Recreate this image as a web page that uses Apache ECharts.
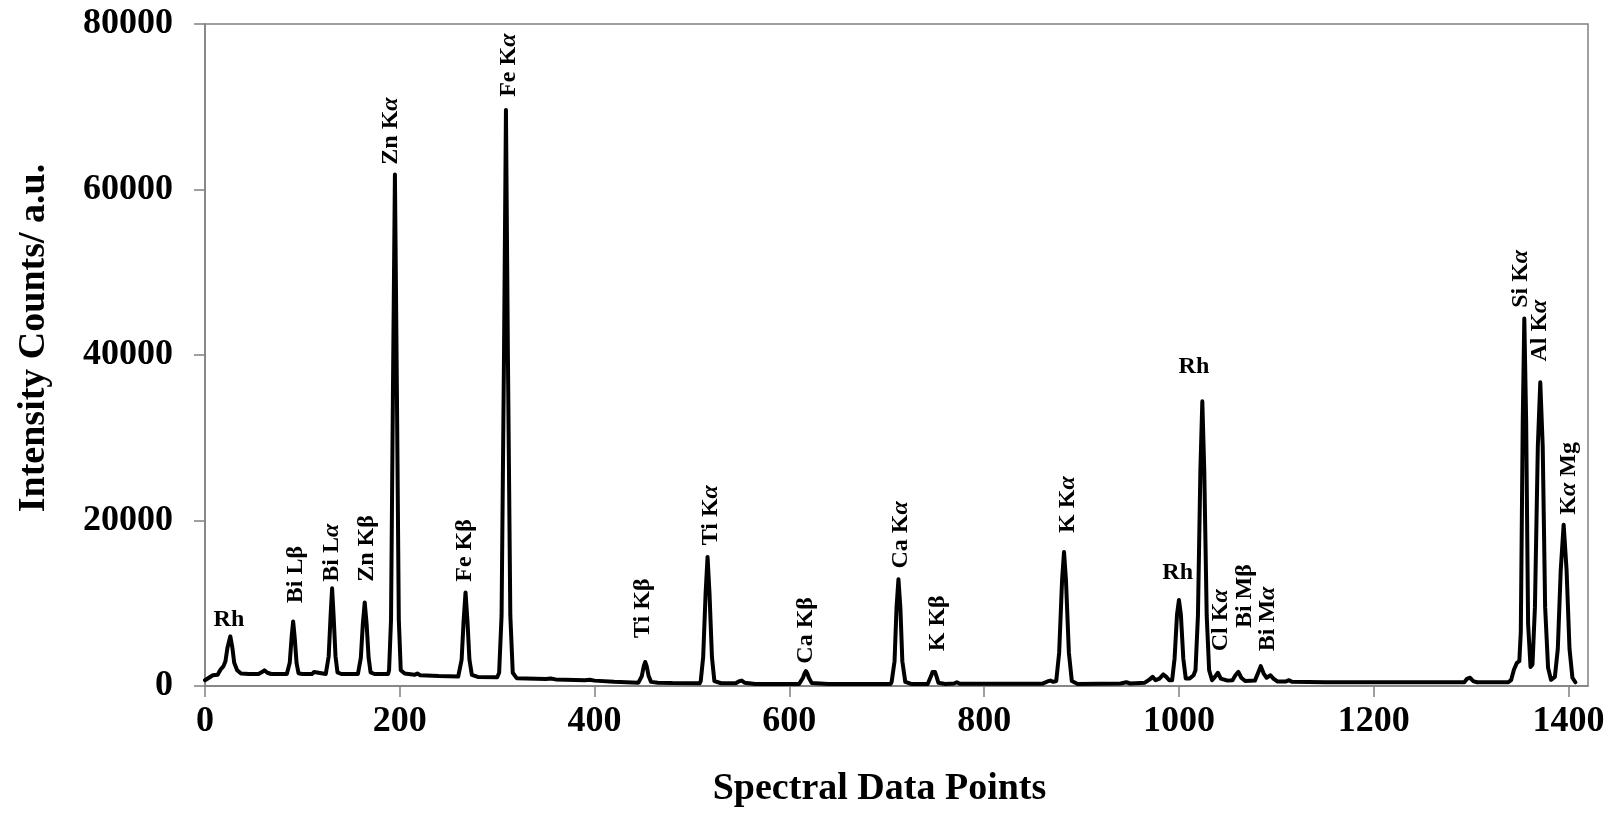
<!DOCTYPE html>
<html>
<head>
<meta charset="utf-8">
<script src="https://cdn.jsdelivr.net/npm/echarts@6/dist/echarts.min.js"></script>
<style>
  html, body { margin: 0; padding: 0; background: #fff; }
  #chart { width: 1616px; height: 816px; }
</style>
</head>
<body>
<div id="chart"></div>
<script>
// spectrum trace: [data point, counts]
const spectrum = [
    [0, 700], [4, 1000], [8, 1300], [10, 1500], [13, 1350], [16, 2000], [19, 2400], [21, 3000],
    [23, 4600], [26, 6000], [28, 4700], [30, 2800], [33, 1900], [37, 1500], [45, 1450], [55, 1450],
    [58, 1650], [61, 1900], [64, 1600], [68, 1450], [84, 1450],
    [85, 1550], [87, 2800], [89, 6000], [90.5, 7800], [92, 6000], [94, 2800], [96, 1550],
    [100, 1450], [110, 1450], [112, 1700], [114, 1500], [124, 1450],
    [125, 1650], [127, 3600], [129, 8600], [130.5, 11800], [132, 8600], [134, 3600], [136, 1650],
    [140, 1450], [157, 1450],
    [158, 1650], [160, 3400], [162, 7400], [164, 10100], [166, 7400], [168, 3400], [170, 1650],
    [174, 1450], [188, 1450],
    [189, 1900], [191, 8000], [193, 36000], [195, 61800], [197, 36000], [199, 8000], [201, 1900],
    [205, 1500], [215, 1350], [218, 1500], [221, 1300], [240, 1200], [260, 1150],
    [261, 1350], [263.5, 3200], [265.5, 7800], [267.5, 11300], [269.5, 7800], [271.5, 3200], [274, 1350],
    [280, 1100], [300, 1050],
    [302, 1600], [304.5, 8500], [307, 40000], [309, 69600], [311, 40000], [313.5, 8500], [316, 1600],
    [320, 950], [350, 850], [355, 900], [360, 800], [390, 700], [395, 750], [400, 650], [420, 500], [445, 400],
    [446, 500], [448.5, 1200], [450.5, 2400], [452, 2900], [453.5, 2400], [455.5, 1200], [458, 500],
    [465, 400], [480, 350], [508, 330],
    [509, 600], [511.5, 3500], [514, 11200], [516, 15600], [518, 11200], [520.5, 3500], [523, 600],
    [530, 330], [545, 330], [548, 550], [551, 650], [554, 400], [565, 250], [610, 250],
    [611, 350], [614, 1000], [615.5, 1500], [617, 1800], [618.5, 1500], [620, 1000], [623, 350],
    [640, 250], [704, 250],
    [705, 500], [708, 3000], [710, 9400], [712, 12900], [714, 9400], [716, 3000], [719, 500],
    [725, 250], [742, 250],
    [743, 400], [745.5, 1200], [747, 1700], [748, 1900], [749.5, 1700], [751, 1200], [753, 400],
    [760, 250], [769, 300], [772, 450], [775, 280], [860, 280], [865, 550], [868, 650], [871, 500],
    [874, 600], [877, 4000], [880, 12800], [882, 16200], [884, 12800], [887, 4000], [890, 600],
    [896, 250], [940, 300], [946, 450], [950, 300], [965, 400], [970, 800], [973, 1100], [976, 700],
    [980, 900], [984, 1400], [987, 1100], [990, 700],
    [993, 700], [995.5, 3300], [998, 8600], [1000, 10400], [1002, 8600], [1004.5, 3300], [1007, 900],
    [1011, 900], [1015, 1300],
    [1017, 1900], [1019.5, 8500], [1022, 26000], [1024, 34400], [1026, 26000], [1028.5, 8500], [1031, 1900],
    [1034, 700], [1037, 1100], [1040, 1600], [1043, 900], [1050, 650], [1055, 700], [1058, 1300],
    [1061, 1700], [1064, 1000], [1068, 600], [1078, 650], [1081, 1500], [1084, 2400], [1087, 1500],
    [1090, 1000], [1094, 1300], [1097, 900], [1101, 550], [1110, 550], [1113, 700], [1116, 500],
    [1150, 450], [1200, 450], [1260, 450], [1293, 450], [1296, 900], [1299, 1000], [1302, 600],
    [1306, 450], [1338, 450],
    [1341, 700], [1344, 2000], [1347, 2800], [1349.5, 3000], [1351, 6500], [1353, 32000], [1354.6, 44400],
    [1356.5, 32000], [1358.5, 7500], [1361, 2300], [1363, 2600],
    [1365.5, 9500], [1368.5, 29000], [1371, 36700], [1373.5, 29000], [1376, 9500], [1379, 2200],
    [1382, 750], [1386, 1100],
    [1389, 4500], [1392, 14000], [1395, 19500], [1398, 14000], [1401, 4500], [1404, 1000], [1407, 450]
];

// emission line labels (rotated), anchored at the start of the text
const lineNames = ['Bi Lβ', 'Bi Lα', 'Zn Kβ', 'Zn Kα', 'Fe Kβ', 'Fe Kα', 'Ti Kβ', 'Ti Kα', 'Ca Kβ',
    'Ca Kα', 'K Kβ', 'K Kα', 'Cl Kα', 'Bi Mβ', 'Bi Mα', 'Si Kα', 'Al Kα', 'Kα Mg'];
const lineX = [93.2, 129.8, 166.6, 190.6, 266.8, 312, 449, 519.3, 616.9,
    714.5, 752.5, 885.7, 1043.2, 1067.2, 1091.1, 1351.4, 1371, 1400.1];
const lineY = [10000, 12600, 12600, 63000, 12600, 71200, 5800, 17000, 2700,
    14200, 4200, 18500, 4200, 7000, 4200, 45700, 39200, 20700];

// Rh tube lines (horizontal labels)
const rhX = [24.6, 998.7, 1015.4];
const rhY = [7980, 13720, 38570];

const FONT = '"Liberation Serif", "Times New Roman", serif';

function richName(name) {
    const parts = name.split('α');
    let out = '';
    parts.forEach((p, i) => {
        if (p) out += '{b|' + p + '}';
        if (i < parts.length - 1) out += '{i|α}';
    });
    return out;
}

const richStyles = {
    b: { fontFamily: FONT, fontWeight: 'bold', fontSize: 24, fill: '#000' },
    i: { fontFamily: FONT, fontWeight: 'bold', fontStyle: 'italic', fontSize: 24, fill: '#000' }
};

const chart = echarts.init(document.getElementById('chart'), null, { renderer: 'canvas' });

const axisGray = '#808080';
const plainNumber = v => String(v);

chart.setOption({
    backgroundColor: '#fff',
    animation: false,
    grid: {
        left: 205, right: 28, top: 24, bottom: 130,
        show: true, borderColor: axisGray, borderWidth: 1.5, backgroundColor: 'transparent'
    },
    xAxis: {
        type: 'value',
        min: 0, max: 1420, interval: 200,
        name: 'Spectral Data Points',
        nameLocation: 'middle',
        nameGap: 84,
        nameTextStyle: { fontFamily: FONT, fontWeight: 'bold', fontSize: 38, color: '#000', padding: [0, 34, 0, 0] },
        axisLine: { show: true, onZero: false, lineStyle: { color: axisGray, width: 1.5 } },
        axisTick: { show: true, inside: false, length: 11, lineStyle: { color: axisGray, width: 1.5 } },
        axisLabel: {
            fontFamily: FONT, fontWeight: 'bold', fontSize: 36, color: '#000', margin: 18,
            showMaxLabel: false, formatter: plainNumber
        },
        splitLine: { show: false }
    },
    yAxis: {
        type: 'value',
        min: 0, max: 80000, interval: 20000,
        name: 'Intensity Counts/ a.u.',
        nameLocation: 'middle',
        nameGap: 152,
        nameTextStyle: { fontFamily: FONT, fontWeight: 'bold', fontSize: 38, color: '#000', padding: [0, 0, 0, 34] },
        axisLine: { show: true, lineStyle: { color: axisGray, width: 1.5 } },
        axisTick: { show: true, inside: false, length: 11, lineStyle: { color: axisGray, width: 1.5 } },
        axisLabel: { fontFamily: FONT, fontWeight: 'bold', fontSize: 36, color: '#000', margin: 32, formatter: plainNumber },
        splitLine: { show: false }
    },
    series: [
        {
            type: 'line',
            data: spectrum,
            showSymbol: false,
            symbol: 'none',
            lineStyle: { color: '#000', width: 4, join: 'round', cap: 'round' },
            silent: true,
            z: 3
        },
        {
            type: 'custom',
            silent: true,
            z: 5,
            data: lineX.map((x, i) => [x, lineY[i]]),
            renderItem: function (params, api) {
                const pt = api.coord([api.value(0), api.value(1)]);
                return {
                    type: 'text',
                    x: pt[0],
                    y: pt[1],
                    rotation: Math.PI / 2,
                    style: {
                        text: richName(lineNames[params.dataIndex]),
                        rich: richStyles,
                        align: 'left',
                        verticalAlign: 'middle',
                        fill: '#000'
                    }
                };
            }
        },
        {
            type: 'custom',
            silent: true,
            z: 5,
            data: rhX.map((x, i) => [x, rhY[i]]),
            renderItem: function (params, api) {
                const pt = api.coord([api.value(0), api.value(1)]);
                return {
                    type: 'text',
                    x: pt[0],
                    y: pt[1],
                    style: {
                        text: 'Rh',
                        font: 'bold 24px ' + FONT,
                        align: 'center',
                        verticalAlign: 'middle',
                        fill: '#000'
                    }
                };
            }
        }
    ]
});
</script>
</body>
</html>
